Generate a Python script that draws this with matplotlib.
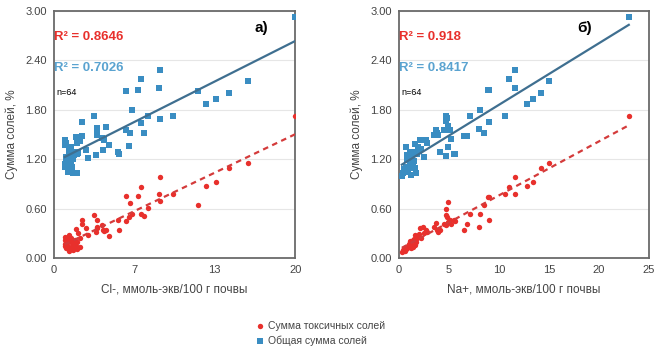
import matplotlib
matplotlib.use('Agg')
import matplotlib.pyplot as plt
import numpy as np

plt.rcParams['font.family'] = ['Liberation Sans', 'DejaVu Sans']

# panel a) - Cl-, ммоль-экв/100 г почвы
cl_x = [20, 16.1, 14.5, 13.4, 12.6, 11.95, 9.9, 8.8, 8.7, 8.8, 7.8, 7.5, 7.25, 7.0, 7.2, 6.45,
        6.35, 6.0, 6.0, 6.2, 5.3, 5.4, 4.6, 4.3, 4.0, 4.1, 3.55, 3.55, 3.5, 3.3, 2.8, 2.65,
        2.35, 2.3, 2.15, 1.8, 1.95, 1.75, 1.9, 1.55, 1.4, 1.2, 1.4, 0.9, 0.9, 1.0, 1.0, 0.9,
        1.2, 1.5, 1.6, 1.9, 1.45, 1.3, 1.7, 1.1, 2.0, 1.6, 2.2, 4.2, 1.0, 1.25, 0.95, 3.6]
cl_total = [2.93, 2.15, 2.01, 1.93, 1.87, 2.03, 1.73, 2.28, 2.07, 1.69, 1.73, 1.52, 2.18, 2.04, 1.64, 1.80,
            1.52, 2.03, 1.55, 1.36, 1.29, 1.26, 1.37, 1.59, 1.46, 1.31, 1.58, 1.50, 1.25, 1.73, 1.22, 1.31,
            1.65, 1.48, 1.46, 1.47, 1.40, 1.29, 1.26, 1.26, 1.24, 1.23, 1.35, 1.43, 1.37, 1.23, 1.15, 1.11,
            1.05, 1.11, 1.03, 1.03, 1.15, 1.30, 1.25, 1.18, 1.28, 1.20, 1.42, 1.43, 1.40, 1.08, 1.14, 1.53]
cl_toxic = [1.72, 1.16, 1.09, 0.92, 0.88, 0.64, 0.78, 0.98, 0.78, 0.69, 0.61, 0.51, 0.86, 0.75, 0.54, 0.54,
            0.67, 0.75, 0.45, 0.50, 0.46, 0.34, 0.27, 0.34, 0.40, 0.34, 0.38, 0.46, 0.32, 0.52, 0.28, 0.37,
            0.46, 0.42, 0.25, 0.35, 0.19, 0.22, 0.13, 0.16, 0.12, 0.15, 0.20, 0.22, 0.26, 0.18, 0.12, 0.15,
            0.21, 0.14, 0.10, 0.11, 0.24, 0.28, 0.16, 0.13, 0.30, 0.19, 0.14, 0.33, 0.25, 0.09, 0.17, 0.36]

# panel б) - Na+, ммоль-экв/100 г почвы
na_x = [23, 15.0, 14.2, 13.45, 12.8, 11.65, 11.65, 11.05, 10.65, 9.05, 8.9, 9.05, 8.1, 8.55, 8.0, 7.15,
        6.8, 6.5, 5.5, 5.1, 4.9, 4.75, 4.7, 4.9, 4.7, 4.1, 3.8, 3.7, 3.9, 2.5, 2.7, 2.1,
        1.9, 1.65, 1.4, 0.7, 1.25, 1.1, 0.95, 0.45, 1.25, 1.6, 0.85, 1.7, 1.8, 2.25, 1.1, 0.75,
        1.4, 0.85, 5.6, 4.8, 2.4, 0.3, 0.6, 1.0, 1.5, 2.0, 3.5, 4.5, 1.2, 0.5, 2.8, 5.2]
na_total = [2.93, 2.15, 2.01, 1.93, 1.87, 2.07, 2.28, 2.17, 1.73, 1.65, 2.04, 2.04, 1.80, 1.52, 1.57, 1.73,
            1.48, 1.48, 1.26, 1.56, 1.60, 1.67, 1.73, 1.35, 1.24, 1.29, 1.52, 1.56, 1.49, 1.23, 1.43, 1.43,
            1.35, 1.38, 1.29, 1.35, 1.23, 1.15, 1.07, 1.03, 1.01, 1.09, 1.19, 1.03, 1.27, 1.33, 1.29, 1.11,
            1.11, 1.25, 1.27, 1.70, 1.43, 1.00, 1.05, 1.20, 1.18, 1.30, 1.50, 1.55, 1.10, 1.08, 1.40, 1.45]
na_toxic = [1.72, 1.16, 1.09, 0.92, 0.88, 0.78, 0.98, 0.86, 0.78, 0.46, 0.74, 0.74, 0.53, 0.65, 0.38, 0.54,
            0.42, 0.34, 0.46, 0.46, 0.68, 0.60, 0.52, 0.44, 0.40, 0.34, 0.34, 0.43, 0.32, 0.30, 0.34, 0.36,
            0.26, 0.28, 0.22, 0.14, 0.20, 0.18, 0.15, 0.10, 0.12, 0.16, 0.13, 0.19, 0.24, 0.25, 0.21, 0.11,
            0.14, 0.12, 0.45, 0.50, 0.38, 0.08, 0.09, 0.17, 0.23, 0.29, 0.38, 0.42, 0.16, 0.12, 0.32, 0.42]

r2_toxic = ['0.8646', '0.918']
r2_total = ['0.7026', '0.8417']
panel_tags = ['а)', 'б)']
x_labels = ['Cl-, ммоль-экв/100 г почвы', 'Na+, ммоль-экв/100 г почвы']
y_ticks = [0.0, 0.6, 1.2, 1.8, 2.4, 3.0]

red = '#e8302c'
blue = '#3a8dc2'

fig = plt.figure(figsize=(6.56, 3.46), dpi=100)
ax1 = fig.add_axes([0.082, 0.254, 0.368, 0.714])
ax2 = fig.add_axes([0.608, 0.254, 0.381, 0.714])

panels = [(ax1, cl_x, cl_toxic, cl_total, 20, [0, 20 / 3, 40 / 3, 20]),
          (ax2, na_x, na_toxic, na_total, 25, [0, 5, 10, 15, 20, 25])]

handles = []
for i, (ax, x, tox, tot, xmax, xt) in enumerate(panels):
    x = np.array(x)
    h_tox = ax.scatter(x, tox, s=15, marker='o', color=red, zorder=3, linewidths=0)
    h_tot = ax.scatter(x, tot, s=15, marker='s', color=blue, zorder=3, linewidths=0)
    handles = [h_tox, h_tot]

    # linear trendlines over the data range
    xs = np.array([x.min(), x.max()])
    k, b = np.polyfit(x, tot, 1)
    ax.plot(xs, k * xs + b, color='#3f6f90', lw=1.6, zorder=4)
    k, b = np.polyfit(x, tox, 1)
    ax.plot(xs, k * xs + b, color='#d43b3b', lw=1.6, ls=(0, (2.5, 2)), zorder=4)

    ax.set_xlim(0, xmax)
    ax.set_ylim(0, 3.0)
    ax.set_xticks(xt)
    ax.set_xticklabels(['%d' % round(v) for v in xt])
    ax.set_yticks(y_ticks)
    ax.set_yticklabels(['%.2f' % v for v in y_ticks])
    ax.grid(axis='y', color='#e6e6e6', lw=0.8)
    ax.set_axisbelow(True)
    for sp in ax.spines.values():
        sp.set_color('#6a6a6a')
        sp.set_linewidth(1.3)
    ax.tick_params(length=0, labelsize=8, colors='#444444', pad=5)
    ax.set_xlabel(x_labels[i], fontsize=8.5, color='#444444', labelpad=6)
    ax.set_ylabel('Сумма солей, %', fontsize=8.5, color='#444444', labelpad=5)

    ax.text(0.0, 0.895, 'R² = ' + r2_toxic[i], transform=ax.transAxes, color=red,
            fontsize=9.5, fontweight='bold', va='center')
    ax.text(0.0, 0.77, 'R² = ' + r2_total[i], transform=ax.transAxes, color='#5aa3d0',
            fontsize=9.5, fontweight='bold', va='center')
    ax.text(0.01, 0.67, 'n=64', transform=ax.transAxes, color='black', fontsize=6.5, va='center')

ax1.text(0.86, 0.93, panel_tags[0], transform=ax1.transAxes, fontsize=11, fontweight='bold', ha='center', va='center')
ax2.text(0.745, 0.93, panel_tags[1], transform=ax2.transAxes, fontsize=11, fontweight='bold', ha='center', va='center')

fig.legend(handles, ['Сумма токсичных солей', 'Общая сумма солей'], loc='upper left',
           bbox_to_anchor=(0.382, 0.085), frameon=False, fontsize=7.5, handletextpad=0.3,
           labelspacing=0.45, borderaxespad=0, handlelength=1.0, labelcolor='#444444')

fig.savefig('out.png', dpi=100)
